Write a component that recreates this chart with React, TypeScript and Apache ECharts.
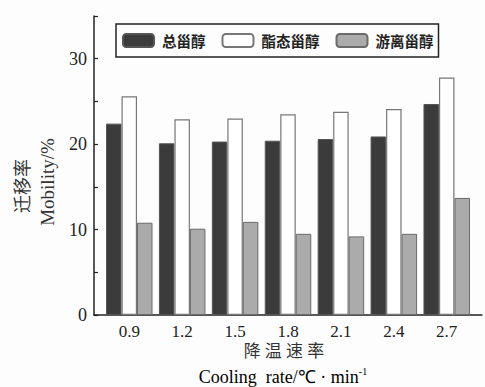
import React, { useEffect, useRef } from "react";
import * as echarts from "echarts";

const categories = [0.9, 1.2, 1.5, 1.8, 2.1, 2.4, 2.7];
const seriesNames = ["总甾醇", "酯态甾醇", "游离甾醇"];
const totalSterol = [22.4, 20.1, 20.3, 20.4, 20.6, 20.9, 24.7];
const esterSterol = [25.6, 22.9, 23.0, 23.5, 23.8, 24.1, 27.8];
const freeSterol = [10.8, 10.1, 10.9, 9.5, 9.2, 9.5, 13.7];

const serif = "'Liberation Serif', 'Times New Roman', serif";
const cjkSerif = "'Liberation Serif', 'Noto Sans CJK SC', serif";

export default function App() {
  const ref = useRef<HTMLDivElement>(null);
  useEffect(() => {
    if (!ref.current) return;
    const chart = echarts.init(ref.current, undefined, { renderer: "svg" });
    const mk = (vals: number[]) => vals.map((v, i) => [categories[i], v]);
    const styles = [
      { color: "#3b3b3b", borderColor: "#555", borderWidth: 1 },
      { color: "#ffffff", borderColor: "#777", borderWidth: 1.2 },
      { color: "#ababab", borderColor: "#6a6a6a", borderWidth: 1 },
    ];
    const all = [totalSterol, esterSterol, freeSterol];
    chart.setOption({
      animation: false,
      backgroundColor: "#fdfdfd",
      grid: { left: 94, right: 3, top: 16, bottom: 72, containLabel: false },
      legend: {
        left: 116,
        top: 24,
        orient: "horizontal",
        itemWidth: 31,
        itemHeight: 13,
        itemGap: 16,
        padding: [9, 5, 9, 6],
        borderColor: "#222",
        borderWidth: 1.5,
        textStyle: {
          fontFamily: "'Noto Sans CJK SC', sans-serif",
          fontWeight: "bold",
          fontSize: 14.5,
          color: "#222",
          padding: [0, 0, 0, 3],
        },
        data: seriesNames,
      },
      xAxis: {
        type: "value",
        min: 0.7,
        max: 2.9,
        splitLine: { show: false },
        axisLine: { show: true, lineStyle: { color: "#222", width: 1.5 } },
        axisTick: { show: false },
        axisLabel: {
          customValues: categories,
          formatter: (v: number) => v.toFixed(1),
          fontFamily: serif,
          fontSize: 17,
          color: "#222",
          margin: 8,
        },
      },
      yAxis: {
        type: "value",
        min: 0,
        max: 35,
        interval: 5,
        splitLine: { show: false },
        axisLine: { show: true, lineStyle: { color: "#222", width: 1.5 } },
        axisTick: { show: true, inside: true, length: 4, lineStyle: { color: "#222", width: 1.2 } },
        axisLabel: {
          formatter: (v: number) => (v % 10 === 0 ? String(v) : ""),
          fontFamily: serif,
          fontSize: 18,
          color: "#222",
          margin: 7,
        },
      },
      graphic: [
        {
          type: "text",
          x: 23,
          y: 186,
          rotation: Math.PI / 2,
          style: {
            text: "迁移率",
            font: `18px ${cjkSerif}`,
            fill: "#333",
            align: "center",
            verticalAlign: "middle",
          },
        },
        {
          type: "text",
          x: 47,
          y: 182,
          rotation: Math.PI / 2,
          style: {
            text: "Mobility/%",
            font: `19px ${serif}`,
            fill: "#333",
            align: "center",
            verticalAlign: "middle",
          },
        },
        {
          type: "text",
          x: 284,
          y: 351,
          style: {
            text: "降 温 速 率",
            font: `17px ${cjkSerif}`,
            fill: "#333",
            align: "center",
            verticalAlign: "middle",
          },
        },
        {
          type: "text",
          x: 283,
          y: 377,
          style: {
            text: "{a|Cooling  rate/℃ · min}{s|-1}",
            align: "center",
            verticalAlign: "middle",
            rich: {
              a: { fontFamily: serif, fontSize: 18, color: "#333" },
              s: { fontFamily: serif, fontSize: 10, color: "#333", verticalAlign: "top", padding: [0, 0, 12, 0] },
            },
          },
        },
      ],
      series: all.map((vals, i) => ({
        name: seriesNames[i],
        type: "bar",
        data: mk(vals),
        barWidth: 15.5,
        barGap: "0%",
        itemStyle: styles[i],
      })),
    });
    return () => chart.dispose();
  }, []);
  return <div ref={ref} style={{ width: 485, height: 387, position: "absolute", left: 0, top: 0 }} />;
}
